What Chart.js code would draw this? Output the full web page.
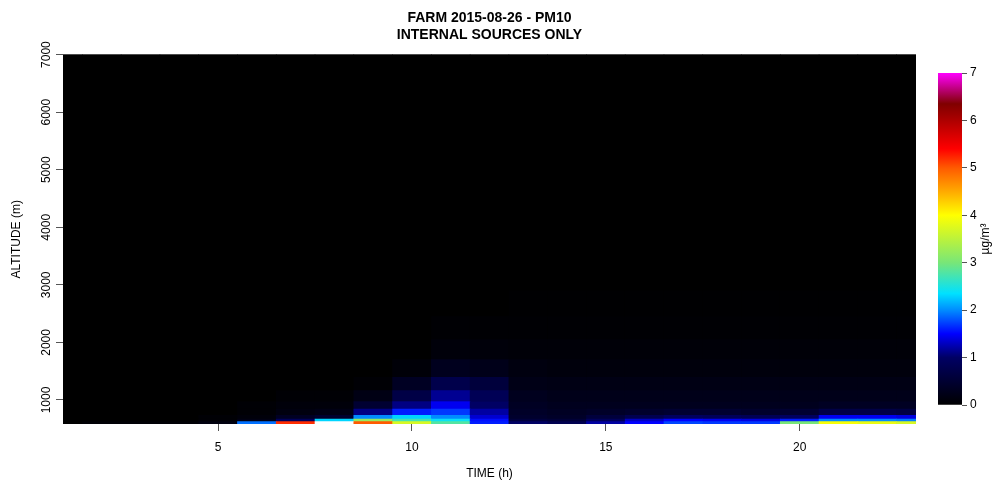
<!DOCTYPE html>
<html>
<head>
<meta charset="utf-8">
<script src="https://cdn.jsdelivr.net/npm/chart.js@4.4.1/dist/chart.umd.min.js"></script>
<style>
  body { margin: 0; background: #fff; }
  #wrap { position: relative; width: 1000px; height: 482px; }
  #main { position: absolute; left: 0; top: 0; }
  #scale { position: absolute; left: 930px; top: 60px; }
</style>
</head>
<body>
<div id="wrap">
  <canvas id="main" width="1000" height="482"></canvas>
  <canvas id="scale" width="70" height="360"></canvas>
</div>
<script>
var titleLines = ["FARM 2015-08-26 - PM10", "INTERNAL SOURCES ONLY"];
var hours = [1, 2, 3, 4, 5, 6, 7, 8, 9, 10, 11, 12, 13, 14, 15, 16, 17, 18, 19, 20, 21, 22, 23];
// model layer boundaries (m), bottom to top
var layerEdges = [583, 623, 670, 734, 843, 974, 1162, 1395, 1700, 2050, 2450, 2900, 3400, 3950, 4550, 5200, 5900, 6650, 7450];
var xTicks = [5, 10, 15, 20];
var yTicks = [1000, 2000, 3000, 4000, 5000, 6000, 7000];
var zTicks = [0, 1, 2, 3, 4, 5, 6, 7];
var zMax = 7;

// PM10 (ug/m3) per layer, one value per hour
var lev01 = [0, 0.05, 0.05, 0.05, 0.15, 1.9, 5.2, 7.6, 5.0, 3.7, 2.8, 1.6, 1.0, 0.8, 1.2, 1.5, 1.75, 1.7, 1.7, 3.0, 3.95, 3.85, 3.7];
var lev02 = [0, 0, 0, 0, 0.05, 0.2, 0.9, 2.3, 3.2, 2.7, 2.4, 1.55, 0.6, 0.55, 0.9, 1.3, 1.5, 1.45, 1.4, 1.6, 2.0, 2.0, 1.95];
var lev03 = [0, 0, 0, 0, 0.05, 0.1, 0.35, 0.45, 2.0, 2.3, 2.0, 1.35, 0.45, 0.4, 0.6, 0.8, 0.95, 0.9, 0.85, 0.95, 1.45, 1.45, 1.4];
var lev04 = [0, 0, 0, 0, 0, 0.05, 0.15, 0.2, 1.1, 1.6, 1.7, 1.2, 0.4, 0.35, 0.4, 0.45, 0.5, 0.5, 0.45, 0.5, 0.7, 0.7, 0.65];
var lev05 = [0, 0, 0, 0, 0, 0.05, 0.1, 0.1, 0.5, 1.1, 1.45, 1.0, 0.35, 0.3, 0.3, 0.3, 0.3, 0.3, 0.3, 0.3, 0.35, 0.35, 0.35];
var lev06 = [0, 0, 0, 0, 0, 0, 0.05, 0.05, 0.2, 0.7, 1.15, 0.85, 0.3, 0.25, 0.25, 0.25, 0.25, 0.25, 0.25, 0.25, 0.25, 0.25, 0.25];
var lev07 = [0, 0, 0, 0, 0, 0, 0, 0, 0.05, 0.35, 0.75, 0.6, 0.22, 0.2, 0.2, 0.2, 0.2, 0.2, 0.2, 0.2, 0.2, 0.2, 0.2];
var lev08 = [0, 0, 0, 0, 0, 0, 0, 0, 0, 0.08, 0.3, 0.25, 0.15, 0.12, 0.12, 0.12, 0.12, 0.12, 0.12, 0.12, 0.12, 0.12, 0.12];
var lev09 = [0, 0, 0, 0, 0, 0, 0, 0, 0, 0, 0.1, 0.1, 0.08, 0.08, 0.08, 0.08, 0.08, 0.08, 0.08, 0.08, 0.08, 0.08, 0.08];
var lev10 = [0, 0, 0, 0, 0, 0, 0, 0, 0, 0, 0.04, 0.04, 0.04, 0.04, 0.04, 0.04, 0.04, 0.04, 0.04, 0.04, 0.04, 0.04, 0.04];
var lev11 = [0, 0, 0, 0, 0, 0, 0, 0, 0, 0, 0, 0, 0.02, 0.02, 0.02, 0.02, 0.02, 0.02, 0.02, 0.02, 0.02, 0.02, 0.02];
var lev12 = [0, 0, 0, 0, 0, 0, 0, 0, 0, 0, 0, 0, 0, 0, 0, 0, 0, 0, 0, 0, 0, 0, 0];
var lev13 = [0, 0, 0, 0, 0, 0, 0, 0, 0, 0, 0, 0, 0, 0, 0, 0, 0, 0, 0, 0, 0, 0, 0];
var lev14 = [0, 0, 0, 0, 0, 0, 0, 0, 0, 0, 0, 0, 0, 0, 0, 0, 0, 0, 0, 0, 0, 0, 0];
var lev15 = [0, 0, 0, 0, 0, 0, 0, 0, 0, 0, 0, 0, 0, 0, 0, 0, 0, 0, 0, 0, 0, 0, 0];
var lev16 = [0, 0, 0, 0, 0, 0, 0, 0, 0, 0, 0, 0, 0, 0, 0, 0, 0, 0, 0, 0, 0, 0, 0];
var lev17 = [0, 0, 0, 0, 0, 0, 0, 0, 0, 0, 0, 0, 0, 0, 0, 0, 0, 0, 0, 0, 0, 0, 0];
var lev18 = [0, 0, 0, 0, 0, 0, 0, 0, 0, 0, 0, 0, 0, 0, 0, 0, 0, 0, 0, 0, 0, 0, 0];
var levels = [lev01, lev02, lev03, lev04, lev05, lev06, lev07, lev08, lev09, lev10, lev11, lev12, lev13, lev14, lev15, lev16, lev17, lev18];

// colour ramp for the concentration scale
var rampStops = [
    [0, [0, 0, 0]],
    [1, [0, 0, 100]],
    [1.5, [0, 0, 255]],
    [2, [0, 140, 255]],
    [2.35, [0, 225, 255]],
    [3, [120, 230, 120]],
    [4, [255, 255, 0]],
    [4.5, [255, 170, 0]],
    [5, [255, 90, 0]],
    [5.4, [255, 0, 0]],
    [6.1, [160, 0, 0]],
    [6.35, [128, 0, 0]],
    [7, [255, 0, 255]]
];

function rampColor(v) {
    if (v > zMax) return '#ffffff'; // out of range -> left blank
    for (var i = 1; i < rampStops.length; i++) {
        if (v <= rampStops[i][0]) {
            var a = rampStops[i - 1], b = rampStops[i];
            var t = (v - a[0]) / (b[0] - a[0]);
            var c = a[1].map((ch, k) => Math.round(ch + (b[1][k] - ch) * t));
            return 'rgb(' + c.join(',') + ')';
        }
    }
    return 'rgb(' + rampStops[rampStops.length - 1][1].join(',') + ')';
}

Chart.defaults.font.family = '"Liberation Sans", Arial, sans-serif';
Chart.defaults.color = '#000';

var datasets = levels.map(function (vals, i) {
    return {
        data: hours.map((h, j) => ({ x: h, y: [layerEdges[i], layerEdges[i + 1]] })),
        backgroundColor: vals.map(rampColor),
        borderWidth: 0,
        barPercentage: 1,
        categoryPercentage: 1,
        grouped: false
    };
});

var plotBg = {
    id: 'plotBg',
    beforeDatasetsDraw(chart) {
        var a = chart.chartArea, c = chart.ctx;
        c.save();
        c.fillStyle = '#000';
        c.fillRect(a.left, a.top, a.right - a.left, a.bottom - a.top);
        c.restore();
    }
};

var chart = new Chart(document.getElementById('main'), {
    type: 'bar',
    data: { datasets: datasets },
    plugins: [plotBg],
    options: {
        responsive: false,
        animation: false,
        layout: { padding: { left: 0, right: 84, top: 0, bottom: 0 } },
        plugins: {
            legend: { display: false },
            tooltip: { enabled: false },
            title: {
                display: true,
                text: titleLines,
                fullSize: false,
                color: '#000',
                font: { size: 14, weight: 'bold', lineHeight: 1.2 },
                padding: { top: 10, bottom: 11 }
            }
        },
        scales: {
            x: {
                type: 'linear', min: 1, max: 23,
                offset: false,
                afterBuildTicks: (s) => { s.ticks = xTicks.map(v => ({ value: v })); },
                afterFit: (s) => { s.height = 58; },
                grid: { offset: false, drawOnChartArea: false, tickLength: 7, tickColor: '#555' },
                border: { display: false },
                ticks: { font: { size: 12 }, padding: 9, maxRotation: 0 },
                title: { display: true, text: 'TIME (h)', font: { size: 12 }, padding: { top: 0, bottom: 1 } }
            },
            y: {
                type: 'linear', min: 583, max: 7000,
                afterBuildTicks: (s) => { s.ticks = yTicks.map(v => ({ value: v })); },
                afterFit: (s) => { s.width = 63; },
                grid: { drawOnChartArea: false, tickLength: 7, tickColor: '#555' },
                border: { display: false },
                ticks: {
                    font: { size: 12 }, padding: -4, minRotation: 90, maxRotation: 90, crossAlign: 'center',
                    callback: (v) => String(v)
                },
                title: { display: true, text: 'ALTITUDE (m)', font: { size: 12 }, padding: { top: 9, bottom: 0 } }
            }
        }
    }
});

// colour scale bar
var unitLabel = {
    id: 'unitLabel',
    afterDraw(ch) {
        var c = ch.ctx, a = ch.chartArea;
        c.save();
        c.translate(56, (a.top + a.bottom) / 2);
        c.rotate(-Math.PI / 2);
        c.font = '12px "Liberation Sans", Arial, sans-serif';
        c.fillStyle = '#000';
        c.textAlign = 'center';
        c.textBaseline = 'middle';
        c.fillText('\u00b5g/m\u00b3', 0, 0);
        c.restore();
    }
};

new Chart(document.getElementById('scale'), {
    type: 'bar',
    data: {
        labels: [''],
        datasets: [{
            data: [[0, zMax]],
            borderWidth: 0,
            barPercentage: 1,
            categoryPercentage: 1,
            backgroundColor: function (ctx) {
                var ch = ctx.chart;
                if (!ch.chartArea) return '#000';
                var ys = ch.scales.y;
                var g = ch.ctx.createLinearGradient(0, ys.getPixelForValue(0), 0, ys.getPixelForValue(zMax));
                rampStops.forEach(s => g.addColorStop(s[0] / zMax, 'rgb(' + s[1].join(',') + ')'));
                return g;
            }
        }]
    },
    plugins: [unitLabel],
    options: {
        responsive: false,
        animation: false,
        layout: { padding: { left: 8, top: 13, bottom: 15, right: 0 } },
        plugins: { legend: { display: false }, tooltip: { enabled: false } },
        scales: {
            x: { display: false },
            y: {
                position: 'right',
                min: 0, max: zMax,
                afterBuildTicks: (s) => { s.ticks = zTicks.map(v => ({ value: v })); },
                afterFit: (s) => { s.width = 38; },
                grid: { drawOnChartArea: false, tickLength: 5, tickColor: '#555' },
                border: { display: false },
                ticks: { font: { size: 12 }, padding: 3 }
            }
        }
    }
});
</script>
</body>
</html>
